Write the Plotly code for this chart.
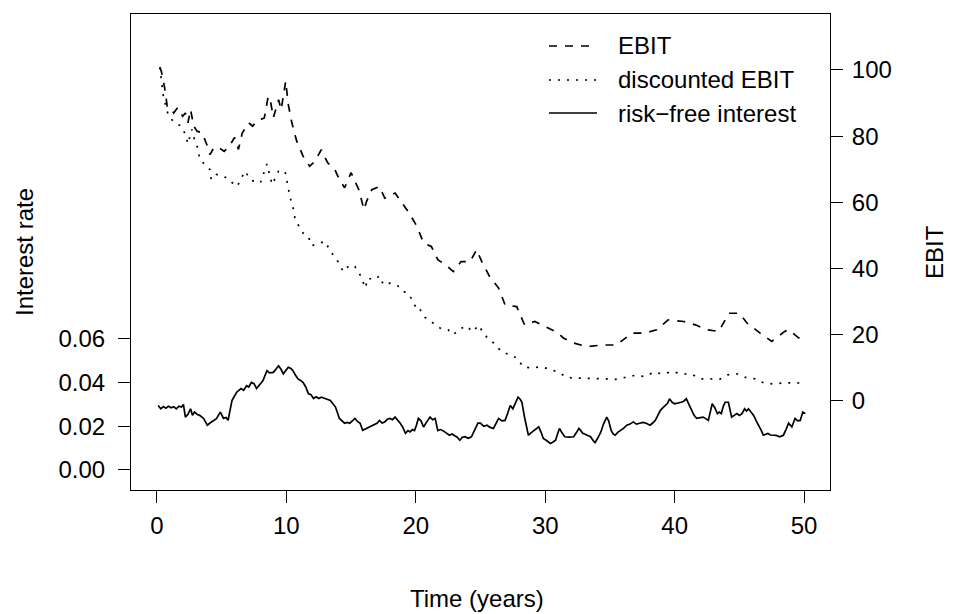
import plotly.graph_objects as go

# ---------------- data ----------------
ebit_t = [0.23, 0.35, 0.6, 0.8, 1.05, 1.3, 1.6, 1.99, 2.2, 2.4, 2.6, 2.85, 3.1, 3.5, 3.9, 4.1, 4.4, 4.8,
          5.2, 5.6, 6.0, 6.3, 6.6, 7.1, 7.4, 7.7, 8.0, 8.3, 8.6, 8.8, 9.0, 9.2, 9.4, 9.6, 9.8, 9.95,
          10.15, 10.4, 10.8, 11.3, 11.8, 12.2, 12.7, 13.2, 13.75, 14.1, 14.5, 15.0, 15.6, 16.0, 16.2,
          16.6, 17.2, 17.6, 18.4, 19.0, 19.4, 20.1, 20.6, 21.2, 21.7, 22.3, 22.9, 23.5, 24.2, 24.7,
          25.1, 25.7, 26.4, 26.9, 27.8, 28.4, 29.2, 30.0, 31.0, 31.4, 32.2, 33.2, 34.4, 35.5, 36.7,
          37.7, 38.6, 39.5, 40.7, 41.6, 42.5, 43.4, 44.2, 45.0, 45.6, 46.6, 47.5, 48.5, 48.8, 49.6, 50.0]
ebit = [100.8, 99.5, 94.6, 89, 88.6, 87, 88.6, 86, 87, 84, 88, 83, 81.5, 81, 77, 74.4, 76.5, 76.5,
        75.4, 77, 79.6, 76, 81, 84, 83, 84.5, 85, 85.5, 92, 90, 85.6, 88, 91, 88, 93.6, 96.6,
        89.6, 84.5, 78.5, 73.9, 70.9, 72.4, 75.9, 71.9, 69.9, 66.9, 64.4, 69, 63.8, 57.8, 60.3,
        63.8, 64.8, 61.3, 62.8, 59.3, 57.3, 52.7, 47.7, 46.7, 42.7, 41.1, 39.1, 42.1, 42.1, 45.7,
        42.1, 37.6, 34.1, 29, 28.5, 23, 24, 22.5, 20.5, 19, 17.5, 16.4, 16.9, 16.9, 20.5,
        20.5, 21.5, 24.5, 24, 23, 21.5, 21, 26.5, 26.5, 23.5, 20.5, 18, 21, 21.5, 19, 18.5]

disc_t = [0.23, 0.5, 0.9, 1.4, 1.9, 2.2, 2.4, 2.7, 2.9, 3.2, 3.3, 3.7, 4.1, 4.2, 4.6, 5.0, 5.4, 5.8,
          6.2, 6.8, 7.3, 8.0, 8.5, 8.9, 9.4, 9.9, 10.15, 10.3, 10.5, 10.66, 10.9, 11.3, 11.7, 11.95,
          12.6, 13.0, 13.4, 13.9, 14.4, 14.9, 15.3, 15.7, 16.1, 16.3, 16.8, 17.2, 17.5, 18.0, 18.6,
          19.0, 19.4, 19.8, 20.1, 20.3, 20.7, 21.2, 21.6, 22.0, 22.5, 22.9, 23.3, 23.9, 24.4, 24.85,
          25.2, 25.6, 26.1, 26.6, 27.3, 27.8, 28.3, 28.95, 29.6, 30.3, 31.0, 31.7, 32.4, 33.2, 34.0,
          34.7, 35.4, 36.2, 36.9, 37.7, 38.4, 39.1, 39.8, 40.5, 41.3, 42.0, 42.7, 43.5, 44.1, 44.8,
          45.5, 46.2, 46.9, 47.7, 48.5, 49.2, 50.0]
disc = [100.8, 92, 86, 84, 83, 80.5, 77.7, 82, 79, 76, 73, 71.4, 69.9, 66.9, 68.4, 68, 67.4, 66,
        64.8, 69.4, 66.6, 65.9, 71.6, 65.4, 69.4, 69.4, 64.4, 61.3, 58.8, 55.3, 53.3, 50.7, 49.7, 46.9,
        47.7, 48.2, 45.2, 42.7, 39.1, 41.1, 40.6, 38.1, 34.1, 37.1, 36.6, 37.8, 35.1, 35.6, 34.8,
        33.1, 32.6, 30, 27.5, 27.8, 25.3, 24, 23, 21.7, 21.5, 20, 21.5, 22.7, 20.9, 22.9,
        20.7, 18.7, 17.3, 14.9, 13.9, 13, 10.3, 10, 10.3, 9.7, 8.7, 7.1, 6.9, 6.9, 6.7,
        6.7, 6.5, 7.1, 7.7, 7.4, 8.7, 8.1, 8.9, 8.2, 8.1, 6.7, 6.6, 6.6, 7.9, 8.2,
        7.1, 6.7, 5.4, 5.1, 5.5, 5.4, 5.4]

rate_t = [0.1, 0.3, 0.5, 0.7, 0.9, 1.1, 1.3, 1.5, 1.7, 1.9, 2.05, 2.2, 2.4, 2.6, 2.75, 2.9, 3.1, 3.3,
          3.6, 3.9, 4.1, 4.35, 4.6, 4.9, 5.15, 5.35, 5.5, 5.8, 6.16, 6.5, 6.7, 6.93, 7.1, 7.3, 7.5,
          7.7, 7.95, 8.2, 8.5, 8.7, 9.0, 9.2, 9.4, 9.6, 9.77, 9.95, 10.15, 10.35, 10.5, 10.7, 10.9,
          11.1, 11.3, 11.5, 11.7, 11.9, 12.1, 12.3, 12.5, 12.7, 12.9, 13.1, 13.4, 13.6, 13.8, 14.1,
          14.3, 14.5, 14.7, 14.9, 15.1, 15.3, 15.5, 15.7, 15.9, 16.2, 16.5, 16.8, 17.0, 17.2, 17.4,
          17.6, 17.8, 18.0, 18.2, 18.4, 18.6, 18.8, 19.0, 19.2, 19.4, 19.55, 19.75, 19.9, 20.05,
          20.2, 20.4, 20.6, 20.85, 21.1, 21.3, 21.5, 21.7, 21.9, 22.1, 22.35, 22.6, 22.8, 23.0,
          23.2, 23.4, 23.6, 23.8, 24.05, 24.3, 24.55, 24.8, 25.0, 25.25, 25.5, 25.75, 26.0, 26.2,
          26.4, 26.65, 26.9, 27.1, 27.3, 27.5, 27.7, 27.9, 28.05, 28.2, 28.4, 28.55, 28.7, 28.9,
          29.1, 29.3, 29.5, 29.7, 29.85, 30.1, 30.4, 30.6, 30.8, 30.95, 31.1, 31.3, 31.5, 31.85,
          32.2, 32.4, 32.6, 32.75, 32.9, 33.2, 33.5, 33.7, 33.85, 34.05, 34.3, 34.5, 34.75, 34.9,
          35.1, 35.25, 35.4, 35.6, 35.8, 36.05, 36.3, 36.55, 36.8, 37.05, 37.3, 37.55, 37.8, 38.1,
          38.3, 38.5, 38.7, 38.9, 39.1, 39.3, 39.45, 39.6, 39.8, 40.0, 40.25, 40.5, 40.7, 40.9,
          41.1, 41.3, 41.5, 41.7, 41.95, 42.2, 42.4, 42.6, 42.75, 42.9, 43.1, 43.3, 43.45, 43.6,
          43.75, 43.9, 44.15, 44.3, 44.4, 44.6, 44.8, 45.0, 45.2, 45.4, 45.55, 45.7, 45.9, 46.1,
          46.3, 46.5, 46.7, 46.85, 47.05, 47.2, 47.4, 47.6, 47.85, 48.1, 48.25, 48.4, 48.6, 48.8,
          49.05, 49.3, 49.5, 49.7, 49.9, 50.1]
rate = [.0295, .0280, .0290, .0283, .0292, .0285, .0290, .0280, .0292, .0288, .0300, .0242, .0255, .0280, .0250, .0265, .0255, .0250,
        .0236, .0205, .0215, .0227, .0235, .0265, .0236, .0240, .0227, .0318, .0356, .0373, .0365, .0386, .0380, .0401, .0395,
        .0373, .0390, .0409, .0455, .0445, .0447, .0460, .0477, .0460, .0440, .0455, .0470, .0465, .0455, .0435, .0417,
        .0410, .0400, .0380, .0350, .0345, .0327, .0335, .0327, .0333, .0330, .0325, .0318, .0300, .0288, .0236,
        .0225, .0214, .0218, .0214, .0225, .0236, .0222, .0214, .0182, .0190, .0197, .0205, .0214, .0227, .0215,
        .0220, .0232, .0236, .0230, .0242, .0230, .0214, .0195, .0168, .0180, .0174, .0185, .0180, .0205,
        .0236, .0225, .0197, .0220, .0242, .0230, .0236, .0180, .0185, .0180, .0170, .0159, .0165, .0159,
        .0150, .0136, .0150, .0152, .0145, .0152, .0180, .0214, .0214, .0200, .0205, .0195, .0190, .0215,
        .0236, .0225, .0227, .0260, .0295, .0280, .0310, .0333, .0325, .0310, .0242, .0200, .0159, .0170,
        .0180, .0190, .0197, .0170, .0144, .0135, .0121, .0128, .0136, .0165, .0190, .0170, .0152, .0150,
        .0152, .0170, .0190, .0180, .0168, .0160, .0152, .0135, .0125, .0145, .0174, .0210, .0242, .0225,
        .0180, .0165, .0159, .0172, .0180, .0190, .0205, .0210, .0220, .0210, .0214, .0218, .0214, .0205,
        .0215, .0227, .0250, .0273, .0285, .0295, .0305, .0326, .0310, .0303, .0305, .0310, .0315, .0326,
        .0300, .0273, .0250, .0236, .0240, .0242, .0235, .0227, .0265, .0303, .0285, .0258, .0265, .0258,
        .0290, .0310, .0310, .0265, .0242, .0250, .0258, .0250, .0258, .0280, .0270, .0280, .0265, .0250,
        .0225, .0205, .0180, .0159, .0165, .0167, .0160, .0159, .0158, .0152, .0155, .0159, .0185, .0214,
        .0197, .0236, .0225, .0227, .0265, .0258]

x_ticks = [0, 10, 20, 30, 40, 50]
rate_ticks = [0.00, 0.02, 0.04, 0.06]
ebit_ticks = [0, 20, 40, 60, 80, 100]
legend_labels = ["EBIT", "discounted EBIT", "risk\u2212free interest"]

# ---------------- figure ----------------
W, H = 954, 614
L, R, T, B = 131, 830, 14, 490
FONT = "Liberation Sans, Arial, Helvetica, sans-serif"
FS = 24
LW = 1.7

fig = go.Figure()
fig.add_trace(go.Scatter(x=ebit_t, y=ebit, mode="lines", yaxis="y2",
                         line=dict(color="black", width=LW, dash="8px,8px"), showlegend=False))
fig.add_trace(go.Scatter(x=disc_t, y=disc, mode="lines", yaxis="y2",
                         line=dict(color="black", width=LW, dash="2px,7px"), showlegend=False))
fig.add_trace(go.Scatter(x=rate_t, y=rate, mode="lines", yaxis="y",
                         line=dict(color="black", width=LW), showlegend=False))

def px(xp):
    return (xp - L) / (R - L)

def py(yp):
    return (B - yp) / (B - T)

# manual legend (R-style, no box)
rows_y = [46, 80, 113]
dashes = ["8px,8px", "2px,7px", "solid"]
shapes = []
annos = []
for lab, yy, dsh in zip(legend_labels, rows_y, dashes):
    shapes.append(dict(type="line", xref="paper", yref="paper",
                       x0=px(549), x1=px(597), y0=py(yy), y1=py(yy),
                       line=dict(color="black", width=LW, dash=dsh)))
    annos.append(dict(text=lab, xref="paper", yref="paper", x=px(616), y=py(yy),
                      xanchor="left", yanchor="middle", showarrow=False,
                      font=dict(family=FONT, size=FS, color="black")))

annos.append(dict(text="Time (years)", xref="paper", yref="paper", x=px(477), y=py(598),
                  xanchor="center", yanchor="middle", showarrow=False,
                  font=dict(family=FONT, size=FS, color="black")))
annos.append(dict(text="Interest rate", xref="paper", yref="paper", x=px(24), y=py(252),
                  xanchor="center", yanchor="middle", showarrow=False, textangle=-90,
                  font=dict(family=FONT, size=FS, color="black")))
annos.append(dict(text="EBIT", xref="paper", yref="paper", x=px(934), y=py(252),
                  xanchor="center", yanchor="middle", showarrow=False, textangle=-90,
                  font=dict(family=FONT, size=FS, color="black")))

fig.update_layout(
    width=W, height=H,
    margin=dict(l=L, r=W - R, t=T, b=H - B, pad=0),
    paper_bgcolor="white", plot_bgcolor="white",
    font=dict(family=FONT, size=FS, color="black"),
    xaxis=dict(range=[-2, 52], tickvals=x_ticks, ticks="outside", ticklen=12,
               tickwidth=1.2, tickcolor="black", showline=True, mirror=True,
               linecolor="black", linewidth=1.2, showgrid=False, zeroline=False,
               ticklabelstandoff=2),
    yaxis=dict(range=[-0.0092, 0.2089], tickvals=rate_ticks, tickformat=".2f",
               ticks="outside", ticklen=12, tickwidth=1.2, tickcolor="black",
               showline=True, mirror=True, linecolor="black", linewidth=1.2,
               showgrid=False, zeroline=False, ticklabelstandoff=8),
    yaxis2=dict(range=[-26.9, 116.9], tickvals=ebit_ticks, overlaying="y", side="right",
                ticks="outside", ticklen=12, tickwidth=1.2, tickcolor="black",
                showline=False, showgrid=False, zeroline=False, ticklabelstandoff=4),
    shapes=shapes,
    annotations=annos,
)

fig.write_html("out.html")
